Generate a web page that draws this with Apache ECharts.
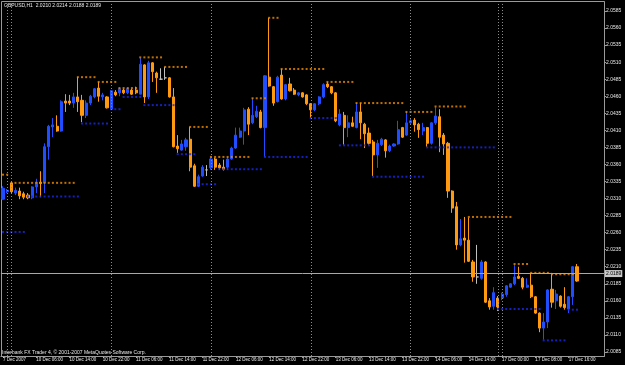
<!DOCTYPE html>
<html>
<head>
<meta charset="utf-8">
<script src="https://cdn.jsdelivr.net/npm/echarts@6/dist/echarts.min.js"></script>
<style>
html,body{margin:0;padding:0;background:#000;}
#c{width:625px;height:365px;}
</style>
</head>
<body>
<div id="c"></div>
<script>
// ---------- DATA ----------
const symbol = 'GBPUSD';
const period = 'H1';
const copyright = 'Interbank FX Trader 4, \u00a9 2001-2007 MetaQuotes Software Corp.';
// trading sessions: [start (UTC), number of hourly bars]
const sessions = [
  ['2007-12-07T20:00:00Z', 1],
  ['2007-12-09T23:00:00Z', 1],
  ['2007-12-10T00:00:00Z', 117],
  ['2007-12-16T23:00:00Z', 1],
  ['2007-12-17T00:00:00Z', 19]
];
const opens = [
2.0309,2.0320,2.0333,2.0318,2.0321,2.0317,2.0315,2.0311,2.0327,2.0334,
2.0333,2.0386,2.0415,2.0416,2.0409,2.0453,2.0453,2.0450,2.0459,2.0454,
2.0432,2.0450,2.0459,2.0472,2.0459,2.0459,2.0441,2.0466,2.0465,2.0469,
2.0465,2.0469,2.0469,2.0463,2.0506,2.0459,2.0509,2.0494,2.0485,2.0487,
2.0487,2.0459,2.0387,2.0381,2.0386,2.0397,2.0358,2.0328,2.0343,2.0352,
2.0355,2.0368,2.0359,2.0356,2.0356,2.0368,2.0384,2.0400,2.0409,2.0441,
2.0421,2.0430,2.0437,2.0414,2.0488,2.0474,2.0452,2.0491,2.0456,2.0478,
2.0469,2.0462,2.0465,2.0462,2.0449,2.0440,2.0449,2.0459,2.0478,2.0474,
2.0465,2.0418,2.0432,2.0414,2.0421,2.0414,2.0437,2.0419,2.0406,2.0393,
2.0374,2.0389,2.0396,2.0380,2.0387,2.0390,2.0414,2.0403,2.0421,2.0425,
2.0419,2.0409,2.0414,2.0391,2.0421,2.0430,2.0403,2.0391,2.0321,2.0298,
2.0242,2.0252,2.0249,2.0217,2.0195,2.0193,2.0217,2.0160,2.0152,2.0164,
2.0164,2.0169,2.0180,2.0185,2.0196,2.0193,2.0180,2.0183,2.0166,2.0142,
2.0120,2.0129,2.0177,2.0160,2.0167,2.0155,2.0148,2.0166,2.0210
];
const highs = [
2.0328,2.0324,2.0334,2.0326,2.0326,2.0320,2.0318,2.0328,2.0339,2.0350,
2.0391,2.0418,2.0428,2.0432,2.0454,2.0463,2.0462,2.0465,2.0488,2.0462,
2.0454,2.0462,2.0472,2.0481,2.0465,2.0460,2.0469,2.0469,2.0472,2.0471,
2.0472,2.0471,2.0474,2.0516,2.0507,2.0512,2.0510,2.0496,2.0501,2.0503,
2.0488,2.0472,2.0403,2.0396,2.0399,2.0415,2.0361,2.0345,2.0359,2.0359,
2.0370,2.0370,2.0362,2.0367,2.0371,2.0386,2.0414,2.0414,2.0443,2.0444,
2.0457,2.0446,2.0440,2.0491,2.0575,2.0475,2.0490,2.0500,2.0478,2.0487,
2.0472,2.0466,2.0466,2.0463,2.0450,2.0450,2.0460,2.0479,2.0481,2.0475,
2.0466,2.0441,2.0437,2.0432,2.0430,2.0450,2.0450,2.0421,2.0414,2.0396,
2.0396,2.0399,2.0397,2.0389,2.0391,2.0424,2.0415,2.0437,2.0428,2.0428,
2.0421,2.0421,2.0415,2.0422,2.0444,2.0441,2.0406,2.0393,2.0322,2.0305,
2.0280,2.0283,2.0282,2.0220,2.0242,2.0220,2.0218,2.0164,2.0180,2.0167,
2.0172,2.0183,2.0186,2.0213,2.0210,2.0195,2.0193,2.0201,2.0167,2.0143,
2.0142,2.0177,2.0201,2.0176,2.0168,2.0180,2.0167,2.0211,2.0214
];
const lows = [
2.0308,2.0318,2.0318,2.0315,2.0309,2.0309,2.0309,2.0309,2.0318,2.0312,
2.0318,2.0367,2.0400,2.0408,2.0408,2.0437,2.0447,2.0443,2.0437,2.0422,
2.0428,2.0447,2.0457,2.0452,2.0454,2.0442,2.0440,2.0460,2.0460,2.0463,
2.0463,2.0462,2.0463,2.0463,2.0450,2.0456,2.0481,2.0465,2.0484,2.0484,
2.0458,2.0385,2.0377,2.0380,2.0380,2.0350,2.0327,2.0327,2.0342,2.0343,
2.0352,2.0352,2.0352,2.0351,2.0352,2.0367,2.0383,2.0399,2.0389,2.0403,
2.0419,2.0428,2.0413,2.0371,2.0474,2.0446,2.0451,2.0455,2.0454,2.0467,
2.0462,2.0460,2.0458,2.0447,2.0428,2.0438,2.0447,2.0457,2.0472,2.0463,
2.0422,2.0416,2.0389,2.0400,2.0415,2.0413,2.0397,2.0384,2.0389,2.0343,
2.0355,2.0387,2.0370,2.0378,2.0386,2.0389,2.0399,2.0402,2.0419,2.0408,
2.0399,2.0403,2.0386,2.0389,2.0418,2.0378,2.0374,2.0311,2.0289,2.0235,
2.0240,2.0216,2.0217,2.0188,2.0185,2.0191,2.0157,2.0147,2.0147,2.0145,
2.0161,2.0166,2.0179,2.0183,2.0192,2.0177,2.0179,2.0164,2.0141,2.0114,
2.0103,2.0120,2.0150,2.0148,2.0150,2.0147,2.0142,2.0154,2.0188
];
const closes = [
2.0325,2.0322,2.0320,2.0322,2.0314,2.0312,2.0311,2.0327,2.0334,2.0332,
2.0386,2.0416,2.0418,2.0409,2.0452,2.0450,2.0450,2.0459,2.0452,2.0432,
2.0450,2.0460,2.0471,2.0460,2.0462,2.0443,2.0468,2.0462,2.0471,2.0465,
2.0471,2.0463,2.0465,2.0507,2.0459,2.0509,2.0496,2.0487,2.0485,2.0487,
2.0459,2.0386,2.0383,2.0390,2.0396,2.0356,2.0328,2.0342,2.0356,2.0352,
2.0368,2.0356,2.0355,2.0353,2.0368,2.0384,2.0403,2.0409,2.0440,2.0419,
2.0432,2.0438,2.0414,2.0490,2.0475,2.0450,2.0488,2.0456,2.0477,2.0468,
2.0463,2.0465,2.0459,2.0449,2.0440,2.0449,2.0459,2.0477,2.0474,2.0465,
2.0424,2.0434,2.0414,2.0421,2.0416,2.0437,2.0421,2.0405,2.0391,2.0374,
2.0391,2.0397,2.0380,2.0387,2.0390,2.0411,2.0400,2.0421,2.0424,2.0418,
2.0411,2.0414,2.0391,2.0421,2.0431,2.0400,2.0390,2.0321,2.0296,2.0242,
2.0251,2.0249,2.0218,2.0195,2.0195,2.0217,2.0158,2.0151,2.0172,2.0151,
2.0170,2.0182,2.0185,2.0195,2.0193,2.0180,2.0183,2.0166,2.0142,2.0120,
2.0129,2.0176,2.0158,2.0170,2.0152,2.0150,2.0166,2.0210,2.0189
];
// indicator levels: [first bar, last bar, price]
const resistance = [
[0,1,2.0345],[3,17,2.0333],[18,22,2.0488],[23,27,2.0481],[28,32,2.0472],
[33,38,2.0517],[39,44,2.0503],[45,49,2.0415],[50,59,2.0371],[60,63,2.0457],
[64,66,2.0575],[67,77,2.0500],[78,84,2.0481],[85,96,2.0450],[97,103,2.0437],
[104,111,2.0445],[112,122,2.0283],[123,126,2.0214],[127,131,2.0201],[132,137,2.0199]
];
const support = [
[0,5,2.0261],[6,18,2.0313],[19,25,2.0420],[26,28,2.0441],[29,33,2.0459],
[34,41,2.0447],[42,46,2.0375],[47,51,2.0331],[52,62,2.0353],[63,73,2.0371],
[74,80,2.0428],[81,88,2.0388],[89,101,2.0342],[102,118,2.0385],[119,129,2.0148],
[130,135,2.0102],[136,138,2.0147]
];
const yTicks = [2.0085,2.0110,2.0135,2.0160,2.0185,2.0210,2.0235,2.0260,2.0285,2.0310,
2.0335,2.0360,2.0385,2.0410,2.0435,2.0460,2.0485,2.0510,2.0535,2.0560,2.0585];
const shiftBars = 6;

// ---------- BUILD ----------
const MON = ['Jan','Feb','Mar','Apr','May','Jun','Jul','Aug','Sep','Oct','Nov','Dec'];
const pad2 = n => (n < 10 ? '0' : '') + n;
const times = [];
sessions.forEach(([s, n]) => {
  const t0 = Date.parse(s);
  for (let i = 0; i < n; i++) times.push(new Date(t0 + i * 3600000));
});
const N = times.length;
const cats = times.map(d => d.getUTCDate() + ' ' + MON[d.getUTCMonth()] + ' ' + pad2(d.getUTCHours()) + ':00');
for (let i = 0; i < shiftBars; i++) cats.push('shift' + i);
const firstLabel = times[0].getUTCDate() + ' ' + MON[times[0].getUTCMonth()] + ' ' + times[0].getUTCFullYear();
const showTick = (idx) => idx < N && idx % 8 === 0;

const candles = opens.map((o, i) => [o, closes[i], lows[i], highs[i]]);
function levelData(segs) {
  const arr = new Array(N).fill(null);
  segs.forEach(([a, b, v]) => { for (let k = a; k <= b; k++) arr[k] = v; });
  return arr;
}
const separators = [];
for (let k = 1; k < N; k++) {
  if (times[k].getUTCDate() !== times[k - 1].getUTCDate()) separators.push(cats[k]);
}
const last = N - 1;
const f4 = v => v.toFixed(4);
const titleText = symbol + ',' + period + '  ' + f4(opens[last]) + ' ' + f4(highs[last]) + ' ' + f4(lows[last]) + ' ' + f4(closes[last]);

const FONT = '"Liberation Sans", Arial, sans-serif';
const GRAY = '#9a9a9a';
const TXT = '#e8e8e8';
const BULL = '#1f4dff', BEAR = '#ff9a10';

const chart = echarts.init(document.getElementById('c'), null, {renderer: 'canvas'});
chart.setOption({
  backgroundColor: '#000000',
  animation: false,
  grid: {left: 0, top: 2, right: 21, bottom: 9, containLabel: false},
  xAxis: {
    type: 'category', data: cats, boundaryGap: true,
    axisLine: {show: true, lineStyle: {color: GRAY, width: 1}},
    axisTick: {show: true, interval: showTick, alignWithLabel: true, length: 2, lineStyle: {color: GRAY}},
    axisLabel: {
      interval: showTick, align: 'left', margin: 1.5, color: TXT, fontSize: 4.5, fontFamily: FONT,
      formatter: (v, idx) => idx === 0 ? firstLabel : v
    },
    splitLine: {show: false}
  },
  yAxis: {
    type: 'value', position: 'right', scale: true, min: 2.00791, max: 2.05982,
    axisLine: {show: true, lineStyle: {color: GRAY, width: 1}},
    axisTick: {show: true, customValues: yTicks, length: 2, lineStyle: {color: GRAY}},
    axisLabel: {customValues: yTicks, formatter: v => v.toFixed(4), color: TXT, fontSize: 5, fontFamily: FONT, margin: 2},
    splitLine: {show: false}
  },
  graphic: [
    {type: 'rect', z: 0, silent: true, shape: {x: 1.5, y: 1.5, width: 603, height: 355},
     style: {fill: 'none', stroke: GRAY, lineWidth: 1}},
    {type: 'text', z: 10, left: 4, top: 3.5, silent: true,
     style: {text: titleText, fill: TXT, font: '5px ' + FONT}},
    {type: 'text', z: 10, left: 2, top: 350, silent: true,
     style: {text: copyright, fill: TXT, font: '5px ' + FONT}}
  ],
  series: [
    {
      type: 'candlestick', data: candles, barWidth: 2.6,
      itemStyle: {color: BULL, color0: BEAR, borderColor: BULL, borderColor0: BEAR, borderColorDoji: '#c0c0c0', borderWidth: 1},
      markLine: {
        silent: true, symbol: ['none', 'none'], animation: false,
        data: [
          ...separators.map(c => ({xAxis: c, lineStyle: {color: '#8c8c8c', type: [1, 2], width: 1}, label: {show: false}})),
          {yAxis: closes[last], lineStyle: {color: '#a8a8a8', type: 'solid', width: 1},
           label: {show: true, position: 'end', distance: 1, formatter: f4(closes[last]),
                   backgroundColor: '#c8c8c8', color: '#000', fontSize: 5, fontFamily: FONT, padding: [1, 1], lineHeight: 5}}
        ]
      }
    },
    {
      type: 'scatter', data: levelData(resistance), symbol: 'rect', symbolSize: 2,
      itemStyle: {color: '#f08c00'}, silent: true, z: 3
    },
    {
      type: 'scatter', data: levelData(support), symbol: 'rect', symbolSize: 2,
      itemStyle: {color: '#1a28ee'}, silent: true, z: 3
    }
  ]
});
</script>
</body>
</html>
